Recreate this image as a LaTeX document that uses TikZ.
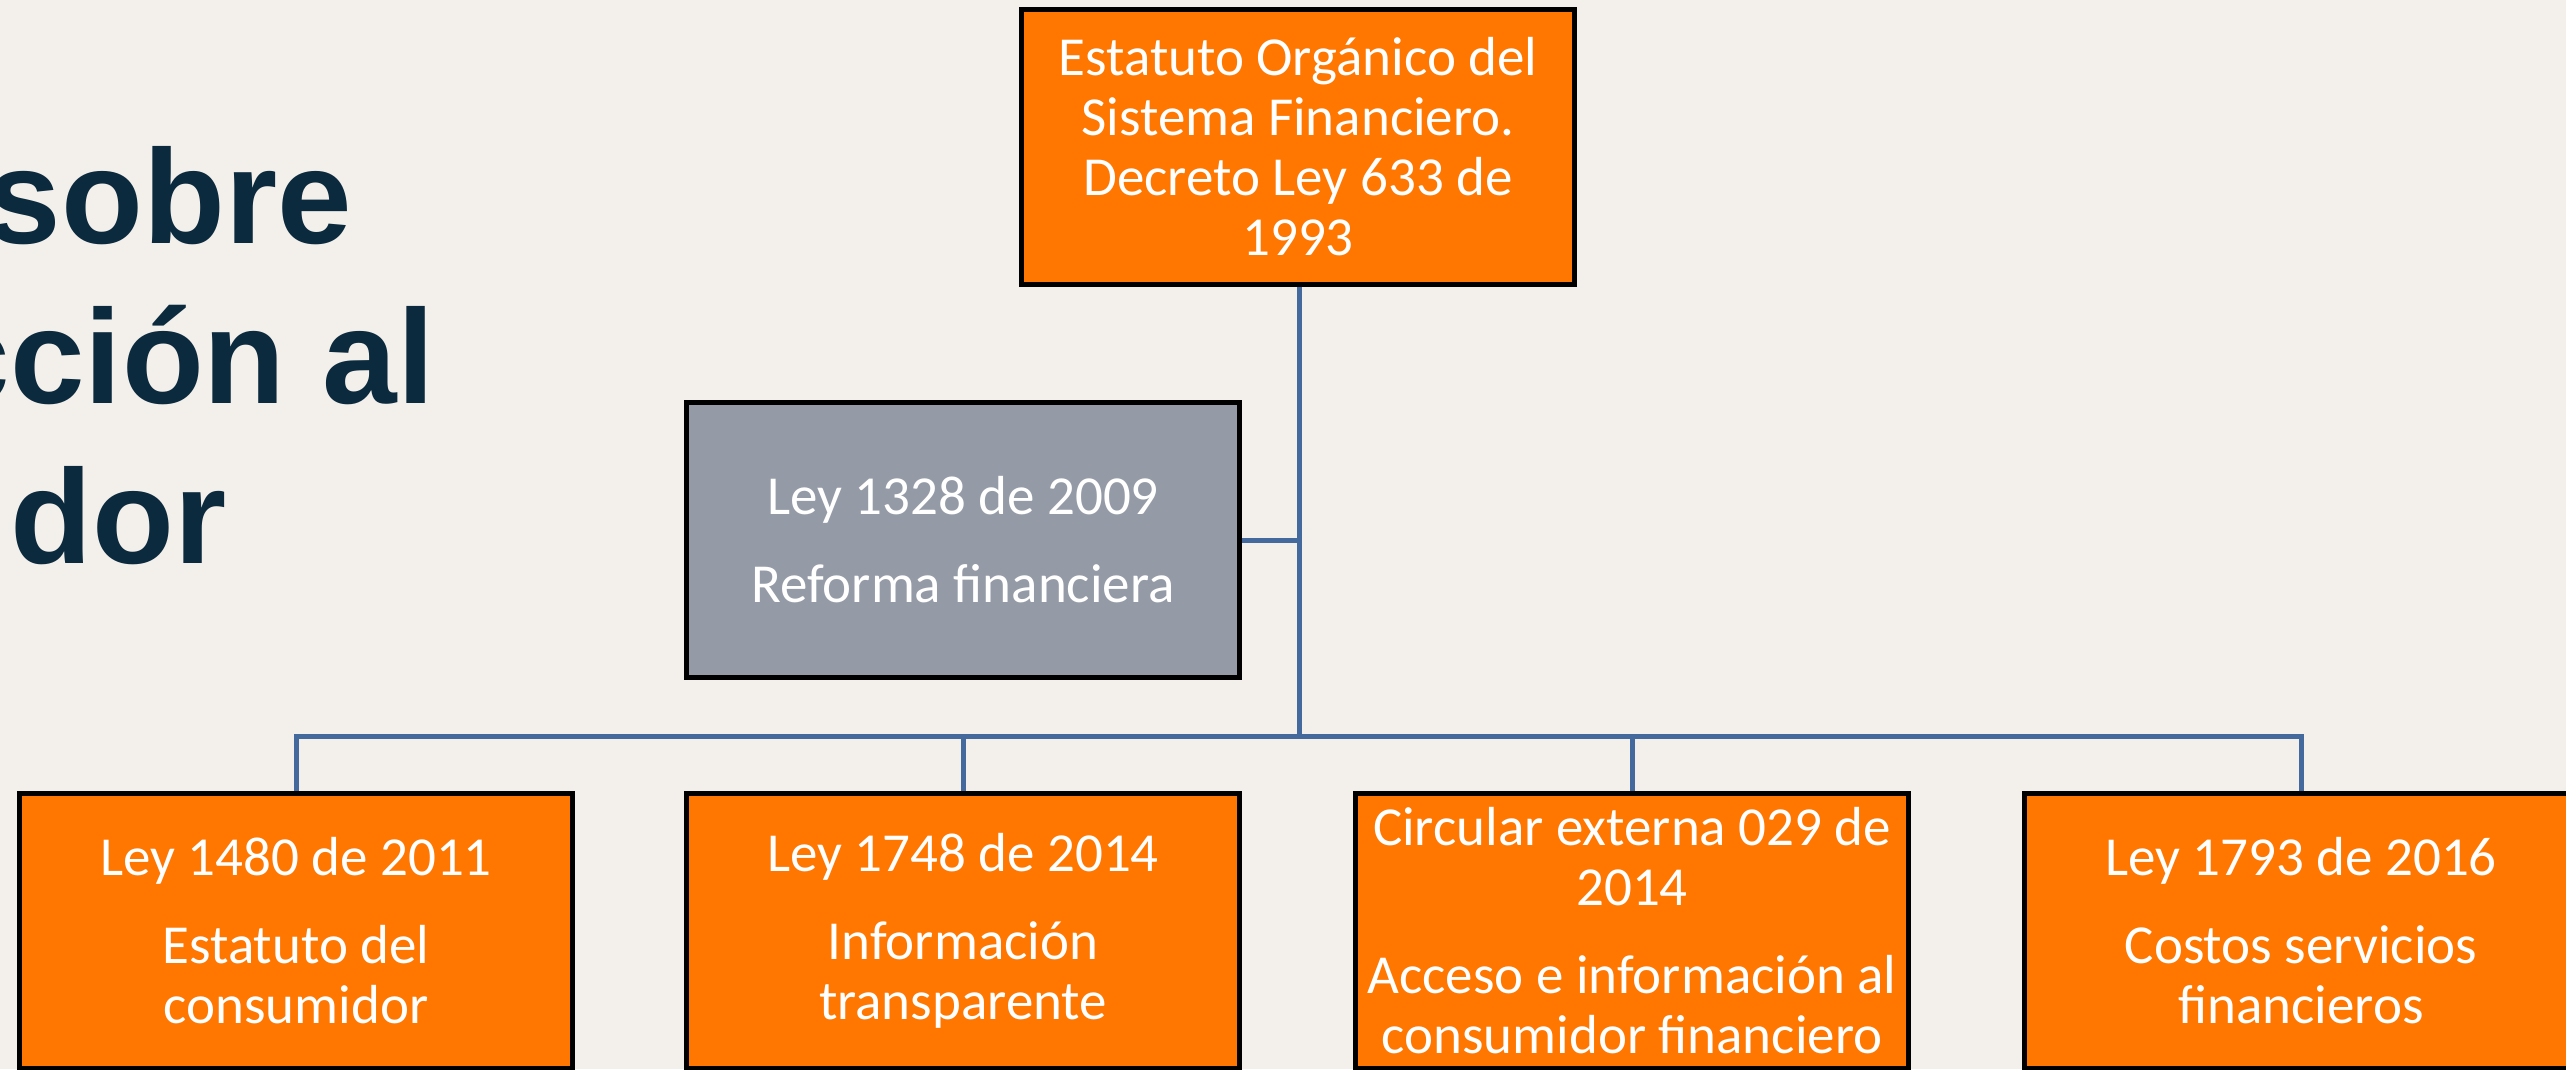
\documentclass[tikz,border=0pt]{standalone}
\usepackage{fontspec}
\setmainfont{Carlito}
\newfontfamily\titlefont{Liberation Sans}
\definecolor{bgc}{HTML}{F3F0EC}
\definecolor{boxorange}{HTML}{FF7700}
\definecolor{boxgray}{HTML}{959BA6}
\definecolor{linkblue}{HTML}{43699D}
\definecolor{titlenavy}{HTML}{0C2A3D}
\tikzset{
  lawbox/.style={draw=black, line width=5pt, fill=boxorange, text=white,
    minimum width=553pt, minimum height=275pt, inner sep=0pt,
    align=center,
    font=\fontsize{55}{60}\selectfont},
  graybox/.style={lawbox, fill=boxgray},
  link/.style={draw=linkblue, line width=5pt},
  titletext/.style={inner sep=0pt, text=titlenavy,
    font=\titlefont\bfseries\fontsize{134}{160}\selectfont}
}
\begin{document}
\begin{tikzpicture}[x=1pt,y=-1pt]
\useasboundingbox (0,0) rectangle (2566,1069);
\clip (0,0) rectangle (2566,1069);
\fill[bgc] (0,0) rectangle (2566,1069);

% title fragments
\node[titletext, anchor=base east] (t1) at (352,243) {sobre};
\node[titletext, anchor=base east] (t2) at (435,403) {cción al};
\node[titletext, anchor=base east] (t3) at (227,563) {dor};

% boxes
\node[lawbox] (top) at (1298,147) {Estatuto Orgánico del\\Sistema Financiero.\\Decreto Ley 633 de\\1993};
\node[graybox] (ley1328) at (963,540) {Ley 1328 de 2009\\[28pt]Reforma financiera};
\node[lawbox] (b1) at (296,931) {Ley 1480 de 2011\\[28pt]Estatuto del\\consumidor};
\node[lawbox] (b2) at (963,931) {Ley 1748 de 2014\\[28pt]Información\\transparente};
\node[lawbox] (b3) at (1632,931) {Circular externa 029 de\\2014\\[28pt]Acceso e información al\\consumidor financiero};
\node[lawbox] (b4) at (2301,931) {Ley 1793 de 2016\\[28pt]Costos servicios\\financieros};

% connectors
\coordinate (bus) at (1299,736);
\coordinate (mid) at (1299,540);
\draw[link] (top.south -| bus) -- (bus);
\draw[link] (ley1328.east) -- (mid);
\draw[link] (b1.north) -- (b1.north |- bus) -- (b4.north |- bus) -- (b4.north);
\draw[link] (b2.north) -- (b2.north |- bus);
\draw[link] (b3.north) -- (b3.north |- bus);
\end{tikzpicture}
\end{document}
